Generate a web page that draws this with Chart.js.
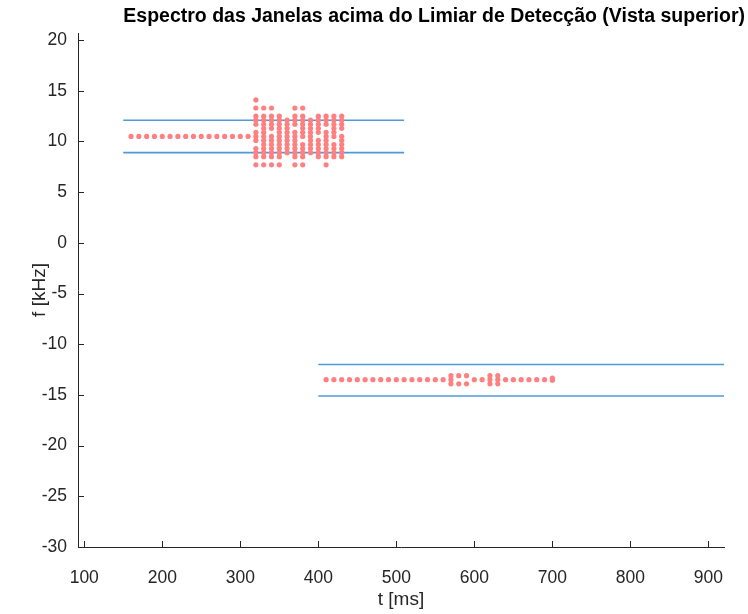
<!DOCTYPE html>
<html>
<head>
<meta charset="utf-8">
<script src="https://cdn.jsdelivr.net/npm/chart.js@4.4.0/dist/chart.umd.min.js"></script>
<style>
  html, body { margin: 0; padding: 0; background: #fff; }
  #wrap { width: 748px; height: 614px; }
</style>
</head>
<body>
<div id="wrap"><canvas id="spec" width="748" height="614"></canvas></div>
<script>
// axis ticks
const xTicks = [100, 200, 300, 400, 500, 600, 700, 800, 900];
const yTicks = [-30, -25, -20, -15, -10, -5, 0, 5, 10, 15, 20];

// detection windows (t in ms, f in kHz)
const winStart = [150, 400];
const winEnd = [510, 920];
const winLow = [8.9, -15.1];
const winHigh = [12.1, -12.0];

// upper window: single-bin run, then the wide burst
const upRunTimes = [160, 170, 180, 190, 200, 210, 220, 230, 240, 250, 260, 270, 280, 290, 300, 310];
const upRunFreq = 10.5;
const upBurstTimes = [320, 330, 340, 350, 360, 370, 380, 390, 400, 410, 420, 430];
const upBurstFreqs = [
  [14.1, 13.3, 12.5, 12.1, 11.7, 10.9, 10.5, 10.1, 9.3, 8.9, 8.5, 7.7],
  [13.3, 12.5, 12.1, 11.7, 11.3, 10.9, 10.5, 10.1, 9.7, 9.3, 8.9, 8.5, 7.7],
  [13.3, 12.5, 12.1, 11.7, 11.3, 10.5, 10.1, 9.7, 9.3, 8.9, 8.5, 7.7],
  [12.5, 12.1, 11.7, 11.3, 10.9, 10.5, 10.1, 9.7, 9.3, 8.9, 8.5, 7.7],
  [12.1, 11.7, 11.3, 10.9, 10.5, 10.1, 9.7, 9.3, 8.9],
  [13.3, 12.5, 12.1, 11.7, 10.9, 10.5, 10.1, 9.7, 9.3, 8.9, 8.5, 7.7],
  [13.3, 12.5, 12.1, 11.7, 11.3, 10.9, 10.5, 9.7, 9.3, 8.9, 8.5, 7.7],
  [12.1, 11.7, 11.3, 10.9, 10.5, 10.1, 9.7, 9.3, 8.9],
  [12.5, 12.1, 11.7, 11.3, 10.9, 10.1, 9.7, 9.3, 8.9, 8.5],
  [12.5, 12.1, 11.7, 10.9, 10.5, 10.1, 9.7, 9.3, 8.9, 8.5, 7.7],
  [12.5, 12.1, 11.7, 11.3, 10.9, 10.5, 9.7, 9.3, 8.9, 8.5],
  [12.5, 12.1, 11.7, 11.3, 10.5, 10.1, 9.7, 9.3, 8.9, 8.5]
];

// lower window
const lowTimes = [410, 420, 430, 440, 450, 460, 470, 480, 490, 500,
                  510, 520, 530, 540, 550, 560, 570, 580, 590, 600,
                  610, 620, 630, 640, 650, 660, 670, 680, 690, 700];
const lowFreqs = [
  [-13.5], [-13.5], [-13.5], [-13.5], [-13.5], [-13.5], [-13.5], [-13.5], [-13.5], [-13.5],
  [-13.5], [-13.5], [-13.5], [-13.5], [-13.5], [-13.5], [-13.1, -13.5, -13.9], [-13.1, -13.9], [-13.1, -13.9], [-13.5],
  [-13.5], [-13.1, -13.5, -13.9], [-13.1, -13.5, -13.9], [-13.5], [-13.5], [-13.5], [-13.5], [-13.5], [-13.5], [-13.35, -13.55]
];

const points = [];
upRunTimes.forEach(t => points.push({ x: t, y: upRunFreq }));
upBurstTimes.forEach((t, i) => upBurstFreqs[i].forEach(f => points.push({ x: t, y: f })));
lowTimes.forEach((t, i) => lowFreqs[i].forEach(f => points.push({ x: t, y: f })));

const windowLines = [];
winStart.forEach((t0, i) => {
  [winLow[i], winHigh[i]].forEach(f => {
    windowLines.push({
      data: [{ x: t0, y: f }, { x: winEnd[i], y: f }],
      showLine: true,
      borderColor: '#4f9ad8',
      borderWidth: 1.6,
      pointRadius: 0
    });
  });
});

const axisColor = '#262626';
const tickFont = { family: 'Liberation Sans, Arial, sans-serif', size: 17.5 };
const labelFont = { family: 'Liberation Sans, Arial, sans-serif', size: 19 };

// matlab style ticks pointing into the plot, plus the title
const decorations = {
  id: 'decorations',
  afterDraw(chart) {
    const ctx = chart.ctx;
    const x = chart.scales.x, y = chart.scales.y;
    const area = chart.chartArea;
    ctx.save();
    ctx.strokeStyle = axisColor;
    ctx.lineWidth = 1;
    ctx.beginPath();
    xTicks.forEach(v => {
      const px = Math.round(x.getPixelForValue(v)) + 0.5;
      ctx.moveTo(px, area.bottom);
      ctx.lineTo(px, area.bottom - 6);
    });
    yTicks.forEach(v => {
      const py = Math.round(y.getPixelForValue(v)) + 0.5;
      ctx.moveTo(area.left, py);
      ctx.lineTo(area.left + 6, py);
    });
    ctx.stroke();

    ctx.fillStyle = '#000';
    ctx.font = 'bold 19.5px "Liberation Sans", Arial, sans-serif';
    ctx.textAlign = 'right';
    ctx.textBaseline = 'middle';
    ctx.fillText('Espectro das Janelas acima do Limiar de Detecção (Vista superior)', 745, 17);
    ctx.restore();
  }
};

new Chart(document.getElementById('spec'), {
  type: 'scatter',
  data: {
    datasets: [
      {
        data: points,
        backgroundColor: '#ff8080',
        borderWidth: 0,
        pointRadius: 2.6,
        pointHoverRadius: 2.6
      },
      ...windowLines
    ]
  },
  options: {
    responsive: false,
    animation: false,
    devicePixelRatio: 1,
    layout: { padding: { top: 33, right: 24, left: 0, bottom: 0 } },
    plugins: { legend: { display: false }, tooltip: { enabled: false } },
    scales: {
      x: {
        type: 'linear',
        min: 92,
        max: 920,
        grid: { display: false, drawTicks: false },
        border: { display: true, color: axisColor, width: 1 },
        afterBuildTicks: s => { s.ticks = xTicks.map(v => ({ value: v })); },
        afterFit: s => { s.height = 67; },
        ticks: { color: axisColor, font: tickFont, padding: 21, maxRotation: 0 },
        title: { display: true, text: 't [ms]', color: axisColor, font: labelFont, padding: { top: 0, bottom: 2.5 } }
      },
      y: {
        type: 'linear',
        min: -30,
        max: 20.7,
        grid: { display: false, drawTicks: false },
        border: { display: true, color: axisColor, width: 1 },
        afterBuildTicks: s => { s.ticks = yTicks.map(v => ({ value: v })); },
        afterFit: s => { s.width = 78; },
        ticks: { color: axisColor, font: tickFont, padding: 11 },
        title: { display: true, text: 'f [kHz]', color: axisColor, font: labelFont, padding: { top: 28.5, bottom: 0 } }
      }
    }
  },
  plugins: [decorations]
});
</script>
</body>
</html>
